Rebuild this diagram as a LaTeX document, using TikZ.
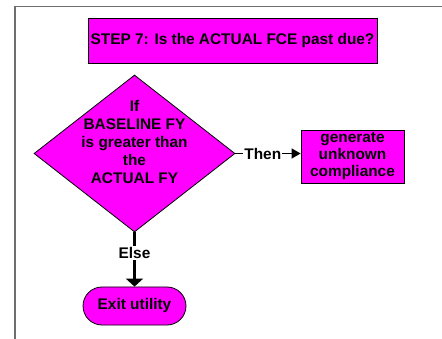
\documentclass[tikz,border=0pt]{standalone}
\usepackage{fontspec}
\setmainfont{Liberation Sans}
\usetikzlibrary{positioning,shapes.geometric,arrows.meta}
\definecolor{flowpink}{RGB}{255,0,255}
\definecolor{framegray}{RGB}{110,110,110}

\begin{document}
\begin{tikzpicture}[x=1pt,y=-1pt,
    font=\fontsize{15.4}{17}\selectfont\bfseries,
    box/.style={draw=black, line width=0.8pt, fill=flowpink, inner sep=0pt, align=center},
    decision/.style={diamond, draw=black, line width=0.8pt, fill=flowpink, inner sep=0pt,
      minimum width=201pt, minimum height=157pt},
    lbl/.style={fill=white, inner sep=1pt}]
  \useasboundingbox (0,0) rectangle (442,339);
  \draw[framegray, line width=1.7pt] (15,339) -- (15,6.5) -- (442,6.5);

  \node[box, minimum width=289pt, minimum height=45pt] (step) at (232.5,40.5)
    {STEP 7: Is the ACTUAL FCE past due?};
  \node[decision] (cond) at (134.5,153.5) {};
  \node[align=center, inner sep=0pt, font=\fontsize{15.4}{18}\selectfont\bfseries] (condtext) at (134.5,141.5)
    {If\\BASELINE FY\\is greater than\\the\\ACTUAL FY};
  \node[box, minimum width=103pt, minimum height=53pt] (gen) at (352.5,156.5)
    {generate\\unknown\\compliance};
  \node[box, rounded corners=19pt, minimum width=103pt, minimum height=38pt] (exit) at (134.5,306)
    {Exit utility};

  \draw[line width=1.3pt, -{Triangle[length=9pt,width=10pt]}]
    (cond.east) -- (cond.east -| gen.west) node[lbl, pos=0.42] (then) {Then};
  \draw[line width=2.2pt, -{Triangle[length=8pt,width=17pt]}]
    (cond.south) -- (exit.north) node[lbl, pos=0.38] (else) {Else};
\end{tikzpicture}
\end{document}
